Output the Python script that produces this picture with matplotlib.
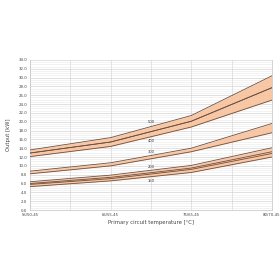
import matplotlib
matplotlib.use("Agg")
import matplotlib.pyplot as plt
from matplotlib.ticker import MultipleLocator, FixedLocator

categories = ["55/50-45", "65/55-45", "75/65-45", "80/70-45"]
series_names = ["500", "400", "300", "200", "150"]
lower_500 = [12.9, 15.4, 20.1, 27.7]
upper_500 = [13.6, 16.4, 21.4, 30.4]
lower_400 = [12.1, 14.4, 18.8, 24.9]
upper_400 = [12.9, 15.4, 20.1, 27.7]
lower_300 = [8.2, 10.0, 13.2, 17.5]
upper_300 = [8.8, 10.7, 14.0, 19.6]
lower_200 = [5.8, 7.1, 9.2, 12.8]
upper_200 = [6.4, 7.9, 10.1, 14.1]
lower_150 = [5.3, 6.6, 8.5, 12.0]
upper_150 = [6.0, 7.4, 9.5, 13.2]
y_ticks = [i * 2.0 for i in range(18)]

bands = {
    "500": (lower_500, upper_500),
    "400": (lower_400, upper_400),
    "300": (lower_300, upper_300),
    "200": (lower_200, upper_200),
    "150": (lower_150, upper_150),
}

fig = plt.figure(figsize=(2.8, 2.8), dpi=100)
ax = fig.add_axes([0.107, 0.25, 0.864, 0.536])
x = list(range(len(categories)))

fill_c = "#f8c29c"
edge_c = "#6e5040"
for name in series_names:
    lo, hi = bands[name]
    ax.fill_between(x, lo, hi, color=fill_c, alpha=0.9, lw=0, zorder=2)
    ax.plot(x, lo, color=edge_c, lw=0.6, zorder=3)
    ax.plot(x, hi, color=edge_c, lw=0.6, zorder=3)

def at(vals, t=1.5):
    i = int(t)
    f = t - i
    return vals[i] * (1 - f) + vals[i + 1] * f

lab_kw = dict(fontsize=2.6, color="#333333", ha="center", zorder=4)
ax.text(1.5, at(upper_500) + 0.5, "500", va="bottom", **lab_kw)
ax.text(1.5, at(lower_400) - 0.5, "400", va="top", **lab_kw)
ax.text(1.5, at(upper_300) + 0.4, "300", va="bottom", **lab_kw)
ax.text(1.5, at(upper_200) + 0.4, "200", va="bottom", **lab_kw)
ax.text(1.5, at(lower_150) - 0.5, "150", va="top", **lab_kw)

ax.set_xlim(0, len(categories) - 1)
ax.set_ylim(0, 34)
ax.set_xticks(x)
ax.set_xticklabels(categories, fontsize=2.8, color="#444444")
ax.xaxis.set_minor_locator(FixedLocator([0.5, 1.5, 2.5]))
ax.set_yticks(y_ticks)
ax.set_yticklabels([f"{v:.1f}" for v in y_ticks], fontsize=2.8, color="#444444")
ax.yaxis.set_minor_locator(MultipleLocator(0.5))
ax.tick_params(axis="both", which="both", length=0, pad=2)
ax.grid(True, which="major", axis="both", color="#d4d4d4", lw=0.5, zorder=0)
ax.grid(True, which="minor", axis="y", color="#e8e8e8", lw=0.4, zorder=0)
ax.grid(True, which="minor", axis="x", color="#d4d4d4", lw=0.5, zorder=0)
ax.spines["top"].set_visible(False)
for s in ["left", "bottom", "right"]:
    ax.spines[s].set_color("#cccccc")
    ax.spines[s].set_linewidth(0.6)

ax.set_xlabel("Primary circuit temperature [°C]", fontsize=3.8, color="#444444", labelpad=2)
ax.set_ylabel("Output [kW]", fontsize=3.8, color="#444444", labelpad=5)

fig.savefig("out.png", dpi=100, facecolor="white")
